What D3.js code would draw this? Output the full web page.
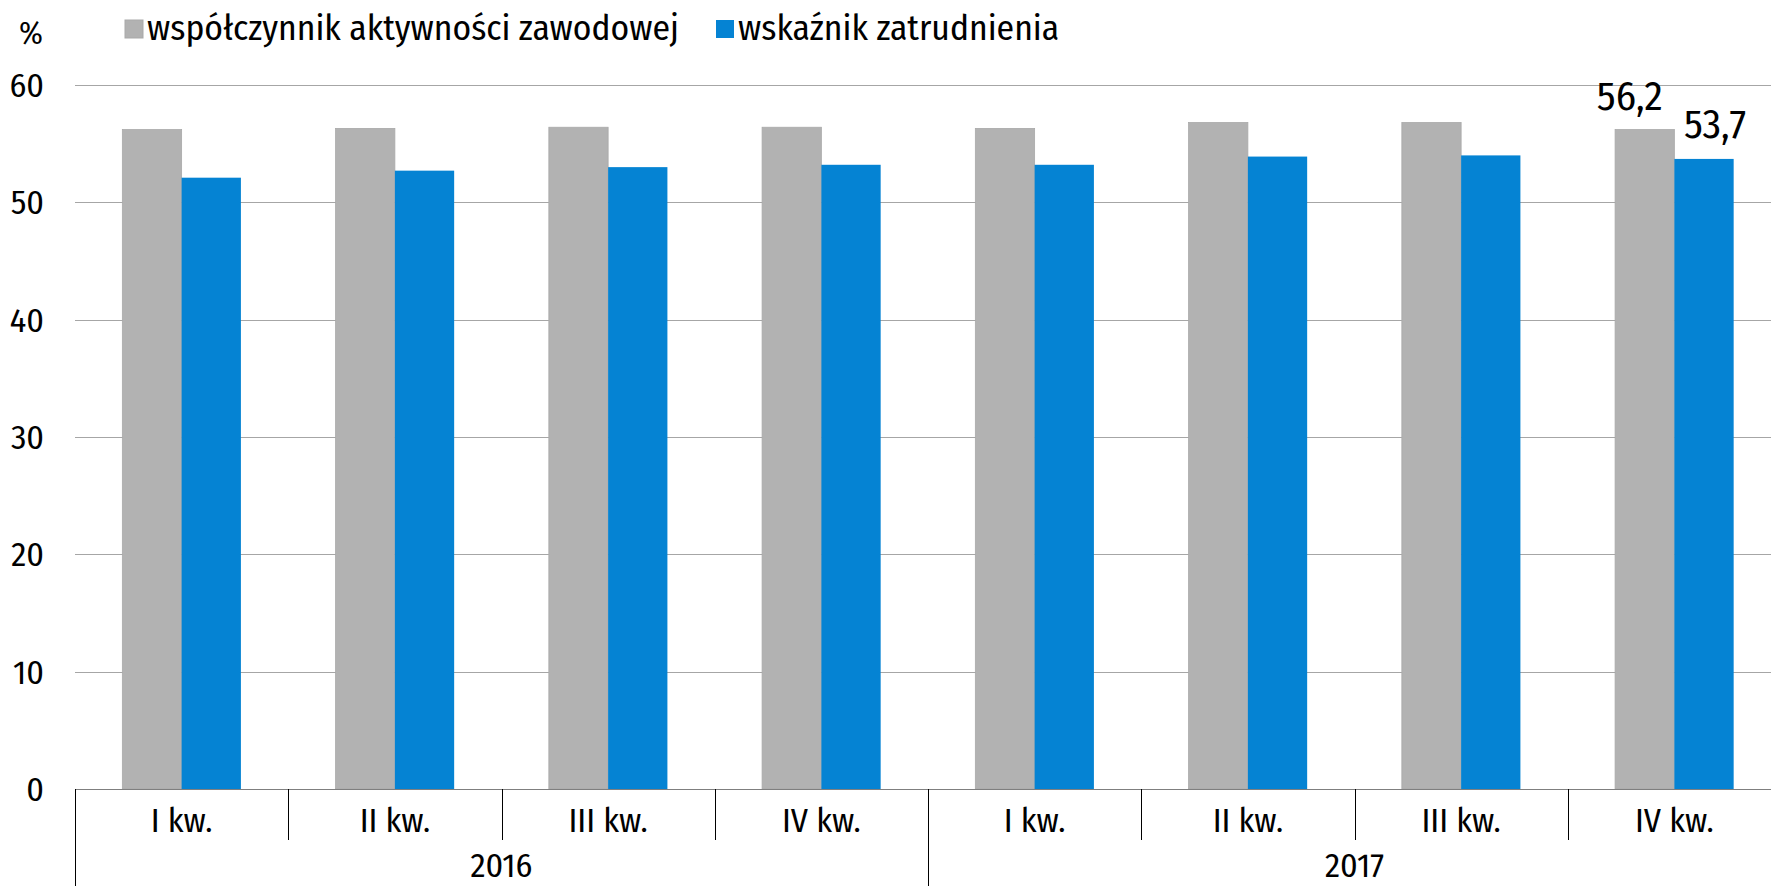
<!DOCTYPE html>
<html><head><meta charset="utf-8">
<script src="https://cdn.jsdelivr.net/npm/d3@7"></script>
<style>
body{margin:0;background:#fff;overflow:hidden}
text{font-family:"Fira Sans Condensed","Liberation Sans Narrow","DejaVu Sans Condensed","Open Sans",sans-serif;fill:#000}
</style>
</head><body><svg id="c" width="1771" height="886"></svg>
<script>
const quarters = ["I kw.","II kw.","III kw.","IV kw.","I kw.","II kw.","III kw.","IV kw."];
const years = ["2016","2017"];
const activity = [56.2,56.3,56.4,56.4,56.3,56.8,56.8,56.2];
const employment = [52.1,52.7,53.0,53.2,53.2,53.9,54.0,53.7];
const seriesNames = ["współczynnik aktywności zawodowej","wskaźnik zatrudnienia"];
const seriesColors = ["#b2b2b2","#0583d3"];
const yTicks = [0,10,20,30,40,50,60];
const labelledIndex = 7;

const svg = d3.select("#c");
const W = 1771, H = 886;
const left = 75, right = 1781, y0 = 789, yTop = 85;

const x = d3.scaleBand().domain(d3.range(quarters.length)).range([left,right])
  .paddingInner(0.444).paddingOuter(0.222);
const xs = d3.scaleBand().domain([0,1]).range([0,x.bandwidth()]);
const y = d3.scaleLinear().domain([0,60]).range([y0,yTop]);
const step = x.step();

// gridlines
svg.append("g").selectAll("line").data(yTicks.filter(d=>d>0)).join("line")
  .attr("x1",left).attr("x2",W).attr("y1",d=>Math.round(y(d))+0.5).attr("y2",d=>Math.round(y(d))+0.5)
  .attr("stroke","#a6a6a6").attr("stroke-width",1);

// y tick labels
svg.append("g").selectAll("text").data(yTicks).join("text")
  .attr("x",44).attr("y",d=>y(d)).attr("dy","0.35em").attr("text-anchor","end")
  .attr("font-size",34).text(d=>d);

svg.append("text").attr("x",19).attr("y",44).attr("font-size",32).text("%");

// bars
const series = [activity, employment];
series.forEach((vals,s)=>{
  svg.append("g").selectAll("rect").data(vals).join("rect")
    .attr("x",(d,i)=>x(i)+xs(s)).attr("width",xs.bandwidth())
    .attr("y",d=>y(d)).attr("height",d=>y0-y(d))
    .attr("fill",seriesColors[s])
    .attr("stroke",s===0?"#a9a9a9":"none").attr("stroke-width",0.8);
});

// data labels on last group
const fmt = v=>d3.format(".1f")(v).replace(".",",");
const offs = [-15,11];
const lift = [20,21];
series.forEach((vals,s)=>{
  const v = vals[labelledIndex];
  svg.append("text")
    .attr("x",x(labelledIndex)+xs(s)+xs.bandwidth()/2+offs[s])
    .attr("y",y(v)-lift[s]).attr("text-anchor","middle").attr("font-size",41)
    .text(fmt(v));
});

// axis line
svg.append("line").attr("x1",left).attr("x2",W).attr("y1",y0+0.5).attr("y2",y0+0.5)
  .attr("stroke","#7f7f7f").attr("stroke-width",1.2);

// separators
svg.append("g").selectAll("line").data(d3.range(quarters.length+1)).join("line")
  .attr("x1",i=>Math.round(left+i*step)+0.5).attr("x2",i=>Math.round(left+i*step)+0.5)
  .attr("y1",y0).attr("y2",i=>i%4===0?H:840)
  .attr("stroke","#000").attr("stroke-width",1);

// quarter labels
svg.append("g").selectAll("text").data(quarters).join("text")
  .attr("x",(d,i)=>x(i)+x.bandwidth()/2).attr("y",832).attr("text-anchor","middle")
  .attr("font-size",34).text(d=>d);

// year labels
svg.append("g").selectAll("text").data(years).join("text")
  .attr("x",(d,i)=>left+(i*4+2)*step).attr("y",877).attr("text-anchor","middle")
  .attr("font-size",34).text(d=>d);

// legend
const legX = [125,716];
seriesNames.forEach((n,s)=>{
  svg.append("rect").attr("x",legX[s]).attr("y",20).attr("width",18).attr("height",18)
    .attr("fill",seriesColors[s]).attr("stroke",s===0?"#a9a9a9":"none");
  svg.append("text").attr("x",legX[s]+22).attr("y",40).attr("font-size",35.5).text(n);
});
</script></body></html>
